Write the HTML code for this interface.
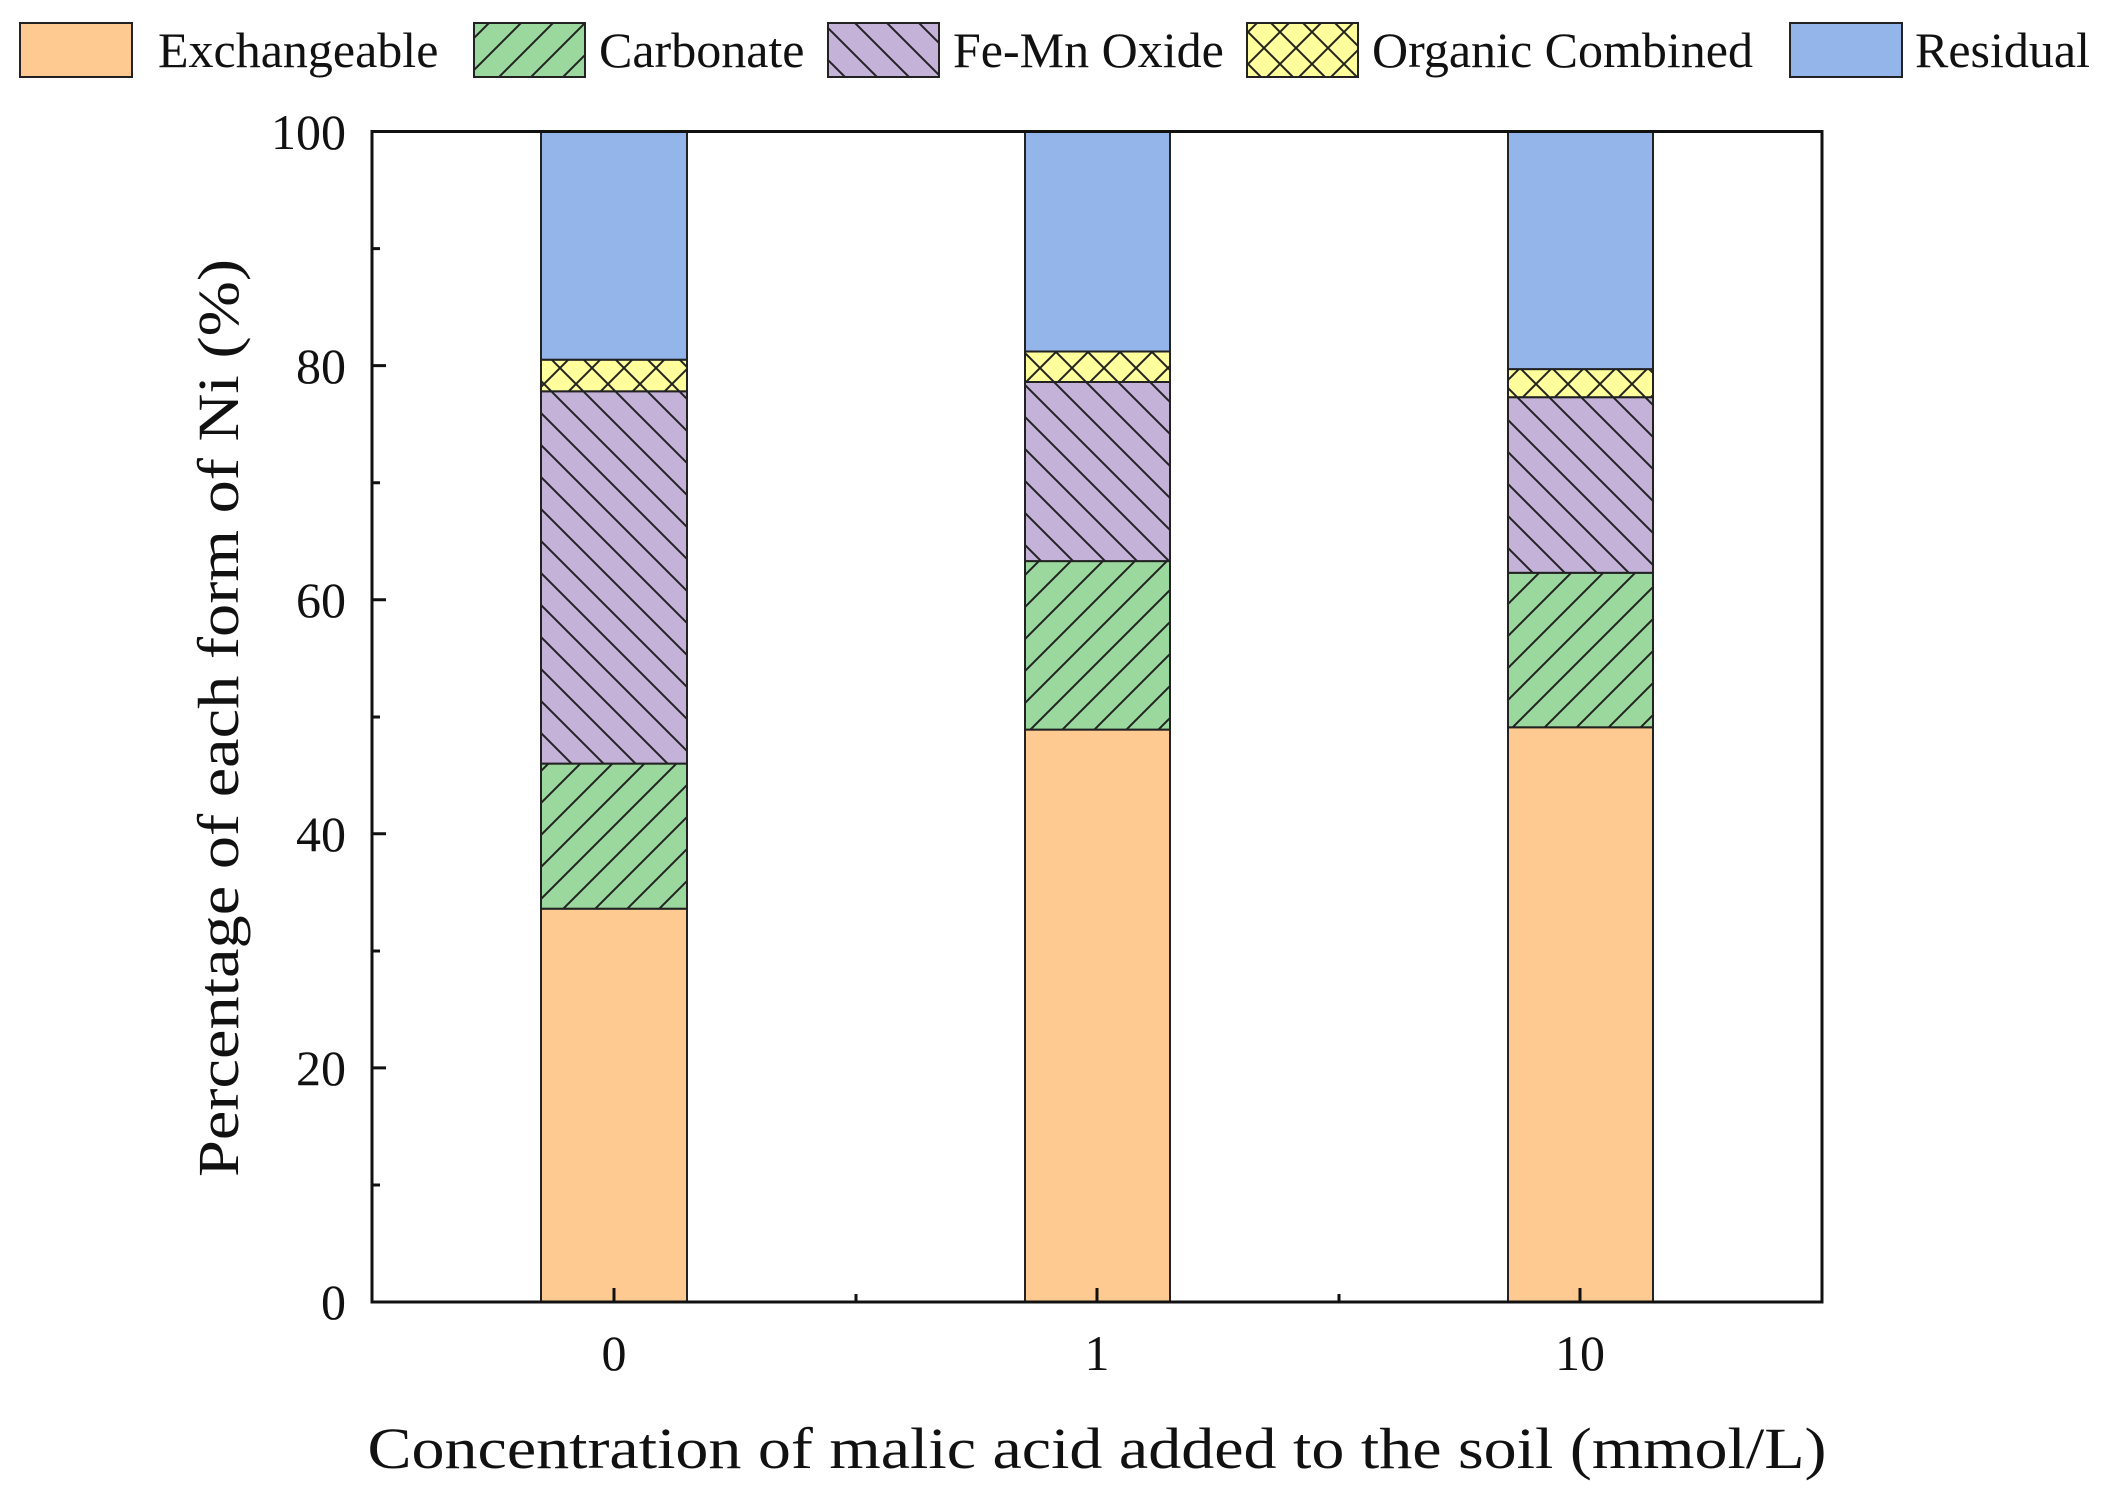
<!DOCTYPE html>
<html><head><meta charset="utf-8"><style>html,body{margin:0;padding:0;background:#fff}svg{display:block}</style></head>
<body>
<svg width="2104" height="1496" viewBox="0 0 2104 1496" xmlns="http://www.w3.org/2000/svg" font-family="'Liberation Serif', serif">
<defs>
<pattern id="pg" width="32" height="32" patternUnits="userSpaceOnUse"><rect width="32" height="32" fill="#9AD89D"/><path d="M-8,8 L8,-8 M0,32 L32,0 M24,40 L40,24" stroke="#222" stroke-width="2"/></pattern>
<pattern id="pp" width="32" height="32" patternUnits="userSpaceOnUse"><rect width="32" height="32" fill="#C4B2D8"/><path d="M-8,24 L8,40 M0,0 L32,32 M24,-8 L40,8" stroke="#222" stroke-width="2"/></pattern>
<pattern id="py" width="32" height="32" patternUnits="userSpaceOnUse"><rect width="32" height="32" fill="#FFFF9C"/><path d="M-8,8 L8,-8 M0,32 L32,0 M24,40 L40,24 M-8,24 L8,40 M0,0 L32,32 M24,-8 L40,8" stroke="#222" stroke-width="2"/></pattern>
</defs>
<rect width="2104" height="1496" fill="#fff"/>
<g stroke="#222" stroke-width="2">
<rect x="20" y="23" width="112" height="54" fill="#FFCA91"/>
<rect x="474" y="23" width="111" height="54" fill="url(#pg)"/>
<rect x="828" y="23" width="111" height="54" fill="url(#pp)"/>
<rect x="1247" y="23" width="111" height="54" fill="url(#py)"/>
<rect x="1790" y="23" width="112" height="54" fill="#93B5EA"/>
</g>
<g font-size="50" fill="#111">
<text x="158" y="67">Exchangeable</text>
<text x="599" y="67">Carbonate</text>
<text x="953" y="67">Fe-Mn Oxide</text>
<text x="1372" y="67">Organic Combined</text>
<text x="1915" y="67">Residual</text>
</g>
<g stroke="#222" stroke-width="2">
<rect x="541" y="908.7" width="146" height="393.3" fill="#FFCA91"/>
<rect x="541" y="763.6" width="146" height="145.1" fill="url(#pg)"/>
<rect x="541" y="391.3" width="146" height="372.3" fill="url(#pp)"/>
<rect x="541" y="359.7" width="146" height="31.6" fill="url(#py)"/>
<rect x="541" y="131.5" width="146" height="228.2" fill="#93B5EA"/>

<rect x="1025" y="729.6" width="145" height="572.4" fill="#FFCA91"/>
<rect x="1025" y="561.1" width="145" height="168.5" fill="url(#pg)"/>
<rect x="1025" y="382" width="145" height="179.1" fill="url(#pp)"/>
<rect x="1025" y="351.5" width="145" height="30.5" fill="url(#py)"/>
<rect x="1025" y="131.5" width="145" height="220" fill="#93B5EA"/>

<rect x="1508" y="727.3" width="145" height="574.7" fill="#FFCA91"/>
<rect x="1508" y="572.8" width="145" height="154.5" fill="url(#pg)"/>
<rect x="1508" y="397.2" width="145" height="175.6" fill="url(#pp)"/>
<rect x="1508" y="369.1" width="145" height="28.1" fill="url(#py)"/>
<rect x="1508" y="131.5" width="145" height="237.6" fill="#93B5EA"/>
</g>
<rect x="372" y="131.5" width="1450" height="1170.5" fill="none" stroke="#111" stroke-width="3"/>
<g stroke="#111" stroke-width="3">
<path d="M372,1302h14M372,1067.9h14M372,833.8h14M372,599.7h14M372,365.6h14M372,131.5h14"/>
<path d="M372,1185h8M372,951h8M372,717h8M372,482.7h8M372,248.6h8"/>
<path d="M614,1302v-14M1097,1302v-14M1580,1302v-14M856,1302v-8M1339,1302v-8"/>
</g>
<g font-size="50" fill="#111" text-anchor="end">
<text x="346" y="1319">0</text>
<text x="346" y="1085">20</text>
<text x="346" y="851">40</text>
<text x="346" y="617">60</text>
<text x="346" y="383">80</text>
<text x="346" y="149">100</text>
</g>
<g font-size="50" fill="#111" text-anchor="middle">
<text x="614" y="1370">0</text>
<text x="1097" y="1370">1</text>
<text x="1580" y="1370">10</text>
</g>
<text x="1097" y="1468" font-size="58" fill="#111" text-anchor="middle" textLength="1459" lengthAdjust="spacingAndGlyphs">Concentration of malic acid added to the soil (mmol/L)</text>
<text transform="translate(238,718) rotate(-90)" font-size="58" fill="#111" text-anchor="middle" textLength="918" lengthAdjust="spacingAndGlyphs">Percentage of each form of Ni (%)</text>
</svg>
</body></html>
